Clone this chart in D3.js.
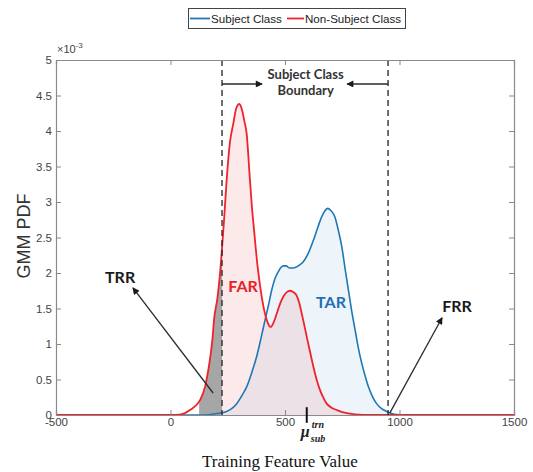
<!DOCTYPE html>
<html><head><meta charset="utf-8">
<script src="https://cdn.jsdelivr.net/npm/d3@7"></script>
<style>
body{margin:0;background:#fff;}
svg{display:block;}
</style></head>
<body>
<svg id="c" width="533" height="472"></svg>
<script>
// ---- data (x: feature value, y: pdf in units of 1e-3) ----
const xTicks = [-500, 0, 500, 1000, 1500];
const xTickLabels = ["-500","0","500","1000","1500"];
const yTicks = [0, 0.5, 1, 1.5, 2, 2.5, 3, 3.5, 4, 4.5, 5];
const yTickLabels = ["0","0.5","1","1.5","2","2.5","3","3.5","4","4.5","5"];
const seriesNames = ["Subject Class", "Non-Subject Class"];

const subjX = [-500,150,201,245,267,289,311,333,355,376,395,413,428,442,456,471,483,493,505,520,536,558,580,602,624,642,660,673,686,700,718,733,748,762,777,791,806,820,835,850,864,882,900,922,944,966,988,1020,1500];
const subjY = [0,0,0.02,0.05,0.09,0.16,0.27,0.4,0.6,0.82,1.08,1.34,1.55,1.76,1.92,2.02,2.08,2.1,2.1,2.07,2.07,2.1,2.16,2.28,2.46,2.63,2.79,2.87,2.91,2.88,2.79,2.6,2.37,2.07,1.76,1.47,1.2,0.95,0.73,0.55,0.4,0.26,0.16,0.09,0.05,0.02,0.005,0,0];

const nonX = [-500,0,40,85,129,151,165,176,184,190,205,215,225,235,245,260,274,287,300,312,322,333,345,355,365,380,398,420,437,450,464,480,493,508,522,537,551,563,573,584,595,610,624,638,653,668,682,705,726,750,784,820,860,1500];
const nonY = [0,0,0.005,0.07,0.21,0.4,0.63,0.87,1.1,1.34,1.65,1.95,2.35,2.8,3.3,3.85,4.1,4.32,4.38,4.3,4.15,3.95,3.4,2.95,2.6,2.1,1.67,1.34,1.24,1.3,1.43,1.58,1.67,1.73,1.75,1.73,1.68,1.57,1.43,1.27,1.1,0.88,0.68,0.5,0.35,0.24,0.16,0.1,0.07,0.04,0.02,0.005,0,0];

const boundary = [225, 950];      // subject class boundary (dashed lines)
const trrRange = [125, 225];      // shaded TRR region
const muSub = 595;                // mean of subject class training feature

// annotations in data units (x, y*1e-3)
const notes = [
  {text:"TRR", x:-220, y:1.86, color:"#1a1a1a"},
  {text:"FRR", x:1251, y:1.455, color:"#1a1a1a"},
  {text:"FAR", x:317, y:1.733, color:"#e8202a"},
  {text:"TAR", x:701, y:1.507, color:"#1f6fb4"}
];
const arrows = [
  {x1:186, y1:0.31, x2:-164, y2:1.79},
  {x1:958, y1:0.03, x2:1186, y2:1.37},
  {x1:225, y1:4.662, x2:400, y2:4.662},
  {x1:950, y1:4.662, x2:771, y2:4.662}
];
const boundaryLabel = {lines:["Subject Class","Boundary"], x:590, y:[4.732,4.507]};

// ---- drawing ----
const svg = d3.select("#c");
const L = 56, R = 514, T = 60, B = 415;
const x = d3.scaleLinear().domain([-500,1500]).range([L,R]);
const y = d3.scaleLinear().domain([0,5]).range([B,T]);

const defs = svg.append("defs");
defs.append("marker").attr("id","ah").attr("viewBox","0 0 10 10")
  .attr("refX",9).attr("refY",5).attr("markerWidth",8).attr("markerHeight",7)
  .attr("markerUnits","userSpaceOnUse").attr("orient","auto")
  .append("path").attr("d","M0,0 L10,5 L0,10 z").attr("fill","#1a1a1a");
defs.append("clipPath").attr("id","clipIn").append("rect")
  .attr("x", x(boundary[0])).attr("y", T).attr("width", R - x(boundary[0])).attr("height", B - T);
defs.append("clipPath").attr("id","clipTrr").append("rect")
  .attr("x", x(trrRange[0])).attr("y", T).attr("width", x(trrRange[1]) - x(trrRange[0])).attr("height", B - T);

const subj = subjX.map((d,i)=>[d, subjY[i]]);
const non = nonX.map((d,i)=>[d, nonY[i]]);

const area = d3.area().x(d=>x(d[0])).y0(y(0)).y1(d=>y(d[1])).curve(d3.curveMonotoneX);
const line = d3.line().x(d=>x(d[0])).y(d=>y(d[1])).curve(d3.curveMonotoneX);

svg.append("path").attr("d", area(subj)).attr("fill","rgb(0,114,189)").attr("fill-opacity",0.07);
svg.append("path").attr("d", area(non)).attr("fill","rgb(230,60,70)").attr("fill-opacity",0.11).attr("clip-path","url(#clipIn)");
svg.append("path").attr("d", area(non)).attr("fill","#a6a6a6").attr("clip-path","url(#clipTrr)");

svg.append("path").attr("d", line(subj)).attr("fill","none").attr("stroke","#1f77b4").attr("stroke-width",1.6);
svg.append("path").attr("d", line(non)).attr("fill","none").attr("stroke","#f0222c").attr("stroke-width",1.8);

// dashed boundary lines
svg.selectAll(".bd").data(boundary).enter().append("line")
  .attr("x1",d=>x(d)).attr("x2",d=>x(d)).attr("y1",T).attr("y2",B)
  .attr("stroke","#222").attr("stroke-width",1.3).attr("stroke-dasharray","6,4");

// arrows
svg.selectAll(".ar").data(arrows).enter().append("line")
  .attr("x1",d=>x(d.x1)).attr("y1",d=>y(d.y1)).attr("x2",d=>x(d.x2)).attr("y2",d=>y(d.y2))
  .attr("stroke","#2a2a2a").attr("stroke-width",1.3).attr("marker-end","url(#ah)");

// axes box
const ax = svg.append("g").attr("class","axes");
ax.append("g").attr("transform",`translate(0,${B})`)
  .call(d3.axisBottom(x).tickValues(xTicks).tickSize(-5).tickPadding(3).tickFormat((d,i)=>xTickLabels[i]));
ax.append("g").attr("transform",`translate(0,${T})`)
  .call(d3.axisTop(x).tickValues(xTicks).tickSize(-5).tickFormat(""));
ax.append("g").attr("transform",`translate(${L},0)`)
  .call(d3.axisLeft(y).tickValues(yTicks).tickSize(-5).tickPadding(4).tickFormat((d,i)=>yTickLabels[i]));
ax.append("g").attr("transform",`translate(${R},0)`)
  .call(d3.axisRight(y).tickValues(yTicks).tickSize(-5).tickFormat(""));
ax.selectAll(".domain").attr("stroke","#8a8a8a").attr("stroke-width",1.2);
ax.selectAll(".tick line").attr("stroke","#8a8a8a");
ax.selectAll(".tick text").attr("fill","#444").style("font-family","'Liberation Sans', Arial, sans-serif").style("font-size","11.5px");

// exponent
const ex = svg.append("text").attr("x",L+1).attr("y",T-7).attr("fill","#444")
  .style("font-family","'Liberation Sans', Arial, sans-serif").style("font-size","11px");
ex.append("tspan").text("×10");
ex.append("tspan").attr("dy",-5).style("font-size","8px").text("-3");

// annotation labels
svg.selectAll(".note").data(notes).enter().append("text")
  .attr("x",d=>x(d.x)).attr("y",d=>y(d.y)).attr("text-anchor","middle")
  .attr("fill",d=>d.color).style("font-family","Lato, 'Open Sans', sans-serif")
  .style("font-weight","bold").style("font-size","16px").text(d=>d.text);

svg.selectAll(".bl").data(boundaryLabel.lines).enter().append("text")
  .attr("x",x(boundaryLabel.x)).attr("y",(d,i)=>y(boundaryLabel.y[i])).attr("text-anchor","middle")
  .attr("fill","#333").style("font-family","Lato, 'Open Sans', sans-serif")
  .style("font-weight","bold").style("font-size","13px").text(d=>d);

// mu marker
svg.append("line").attr("x1",x(muSub)).attr("x2",x(muSub)).attr("y1",y(0.11)).attr("y2",y(-0.11))
  .attr("stroke","#111").attr("stroke-width",2);
const mx = x(muSub);
const muStyle = s => s.style("font-family","'Liberation Serif', 'Times New Roman', serif").style("font-style","italic").style("font-weight","bold").attr("fill","#222");
svg.append("text").attr("x",mx-6).attr("y",437).style("font-size","16px").call(muStyle).text("μ");
svg.append("text").attr("x",mx+5).attr("y",428).style("font-size","10px").call(muStyle).text("trn");
svg.append("text").attr("x",mx+4).attr("y",442).style("font-size","10px").call(muStyle).text("sub");

// axis titles
svg.append("text").attr("x",280).attr("y",467).attr("text-anchor","middle").attr("fill","#111")
  .style("font-family","'Liberation Serif', 'Times New Roman', serif").style("font-size","17px")
  .text("Training Feature Value");
svg.append("text").attr("transform","translate(30,236) rotate(-90)").attr("text-anchor","middle").attr("fill","#333")
  .style("font-family","'Liberation Sans', Arial, sans-serif").style("font-size","18px").text("GMM PDF");

// legend
const lg = svg.append("g");
lg.append("rect").attr("x",188.5).attr("y",8.5).attr("width",217).attr("height",20)
  .attr("fill","#fff").attr("stroke","#444").attr("stroke-width",1);
const legItems = [
  {name:seriesNames[0], color:"#1f77b4", x0:190, x1:210, tx:211},
  {name:seriesNames[1], color:"#f0222c", x0:287, x1:304, tx:305}
];
legItems.forEach(it=>{
  lg.append("line").attr("x1",it.x0).attr("x2",it.x1).attr("y1",18.5).attr("y2",18.5)
    .attr("stroke",it.color).attr("stroke-width",1.8);
  lg.append("text").attr("x",it.tx).attr("y",22.5).attr("fill","#222")
    .style("font-family","'Liberation Sans', Arial, sans-serif").style("font-size","11.6px").text(it.name);
});
</script>
</body></html>
